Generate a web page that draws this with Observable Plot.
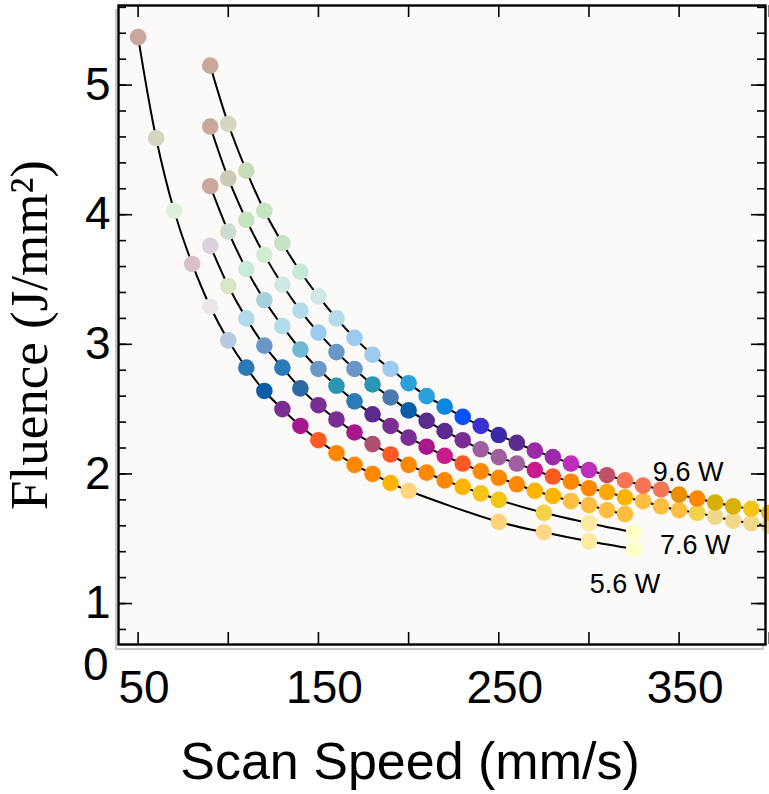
<!DOCTYPE html>
<html><head><meta charset="utf-8">
<script src="https://cdn.jsdelivr.net/npm/d3@7"></script>
<script src="https://cdn.jsdelivr.net/npm/@observablehq/plot@0.6"></script>
<style>body{margin:0;background:#fff}</style>
</head><body><div id="chart"></div>
<script>
// ---- data (speed in mm/s, fluence in J/mm^2) ----
const speed56 = [50,60,70,80,90,100,110,120,130,140,150,160,170,180,190,200,250,275,300,325];
const fluence56 = [5.37,4.59,4.03,3.62,3.29,3.03,2.82,2.64,2.50,2.37,2.26,2.16,2.07,2.00,1.93,1.87,1.63,1.55,1.48,1.42];
const class56 = ["rosy","beige","palemint","palemauve","blush","lightsteel","blue","darkblue","purple","magenta","red","orange","orange","orange","gold","palegold","palegold","peach","lemon","cream"];

const speed66 = [90,100,110,120,130,140,150,160,170,180,190,200,210,220,230,240,250,275,300,325];
const fluence66 = [3.76,3.45,3.20,2.99,2.82,2.66,2.53,2.42,2.32,2.23,2.15,2.07,2.01,1.95,1.90,1.85,1.80,1.70,1.62,1.55];
const class66 = ["lavender","yellowgreen","lightblue","steel","blue","navy","purple","purple","magenta","mauvered","red","orange","orange","orange","gold","goldyellow","goldyellow","yellow","lemon","cream"];

const speed76 = [90,100,110,120,130,140,150,160,170,180,190,200,210,220,230,240,250,260,270,280,290,300,310,320];
const fluence76 = [4.22,3.87,3.58,3.34,3.14,2.96,2.81,2.68,2.56,2.46,2.37,2.28,2.21,2.14,2.08,2.02,1.97,1.92,1.87,1.83,1.79,1.76,1.72,1.69];
const class76 = ["rosy","greygreen","mint","steelteal","lightblue","cyan","steel","teal","blue","darkpurple","purple","purple","magenta","pink","red","orange","orange","orange","gold","gold","lightgold","lightgold","lightgold","lightgold"];

const speed86 = [90,100,110,120,130,140,150,160,170,180,190,200,210,220,230,240,250,260,270,280,290,300,310,320,330,340,350,360,370,380,390,400];
const fluence86 = [4.68,4.28,3.96,3.69,3.46,3.26,3.09,2.94,2.81,2.69,2.59,2.49,2.41,2.33,2.26,2.19,2.13,2.08,2.03,1.98,1.94,1.89,1.86,1.82,1.79,1.75,1.72,1.70,1.67,1.64,1.62,1.60];
const class86 = ["rosy","greige","green","palegreen","aqua","lightblue","sky","steel","steel","teal","steeldark","darkblue","darkpurple","darkpurple","purple","mauve","mauve","mauve","pink","red","orange","orange","amber","gold","lightgold","lightgold","lightgold","yellow","sand","sand","sand","sand"];

const speed96 = [90,100,110,120,130,140,150,160,170,180,190,200,210,220,230,240,250,260,270,280,290,300,310,320,330,340,350,360,370,380,390,400];
const fluence96 = [5.15,4.70,4.34,4.03,3.78,3.56,3.37,3.20,3.05,2.92,2.81,2.70,2.60,2.52,2.44,2.37,2.30,2.24,2.18,2.13,2.08,2.03,1.99,1.95,1.91,1.88,1.84,1.81,1.78,1.75,1.73,1.70];
const class96 = ["rosy","beige","sage","green","green","mint","aqua","lightblue","sky","sky","sky","cerulean","cerulean","azure","brightblue","violet","indigo","darkpurple","plum","plum","orchid","orchid","rosered","coral","coral","coral","darkorange","orange","ochre","ochre","goldyellow","gold"];

const powers = ["5.6 W","6.6 W","7.6 W","8.6 W","9.6 W"];
const speeds = [speed56, speed66, speed76, speed86, speed96];
const fluences = [fluence56, fluence66, fluence76, fluence86, fluence96];
const classes = [class56, class66, class76, class86, class96];

const labelText = ["9.6 W","7.6 W","5.6 W"];
const labelSpeed = [355, 359, 320];
const labelFluence = [2.01, 1.45, 1.15];

const xTicks = [50,100,150,200,250,300,350,400];
const xTickLabels = [50,150,250,350];
const yTickLabels = [1,2,3,4,5];
const yMajor = [1,2,3,4,5];
const yMinor = d3.range(8, 57, 2).map(d => d / 10);

// colour classes of the points
const classNames = ["rosy","beige","greige","greygreen","sage","green","palegreen","mint","palemint","palemauve","blush","lavender","yellowgreen","aqua","steelteal","lightblue","sky","lightsteel","cyan","steel","steeldark","blue","navy","teal","darkblue","cerulean","azure","brightblue","violet","indigo","darkpurple","purple","mauve","plum","magenta","pink","orchid","rosered","mauvered","coral","red","orange","darkorange","amber","gold","lightgold","ochre","goldyellow","yellow","sand","palegold","peach","lemon","cream"];
const classColors = ["#c9a79a","#d6d6c0","#cdcab4","#cddccc","#c8dcb8","#c4e4c2","#d2ecd2","#c8ead8","#dcf0dc","#d8c0c8","#ece6e9","#ddd2dc","#d8e6c4","#d0e8e4","#a8d0dc","#b2dcea","#9ccbef","#b8cae2","#70b8d4","#6a96c8","#4a7ab0","#2a7ab8","#2a68a6","#2a96b4","#0a5ea8","#2aa0dc","#0a88e0","#0a50ff","#3a30d0","#3a2aa8","#5a2a8e","#7a2d92","#a060a0","#9a2aa8","#a8188c","#c81a8a","#bc2ebc","#c0506a","#b05070","#f57555","#ff5a24","#ff8800","#e89000","#ffa800","#ffb400","#ffbe40","#d8b000","#f5c418","#f3d24a","#f0d888","#fdd47c","#fdd88a","#fbeaa0","#ffffc8"];

const rows = [];
powers.forEach((p, i) => speeds[i].forEach((s, j) => rows.push({power: p, speed: s, fluence: fluences[i][j], cls: classes[i][j]})));
const labels = labelText.map((t, i) => ({text: t, speed: labelSpeed[i], fluence: labelFluence[i]}));

const W = 769, H = 794, mL = 118, mR = 4, mT = 5, mB = 150;
const plotW = W - mL - mR, plotH = H - mT - mB;
const sans = "'Liberation Sans', Arial, Helvetica, sans-serif";

const chart = Plot.plot({
  width: W, height: H,
  marginLeft: mL, marginRight: mR, marginTop: mT, marginBottom: mB,
  style: {background: "white", fontFamily: sans, overflow: "visible"},
  x: {domain: [39.13, 397.9], axis: null},
  y: {domain: [0.684, 5.614], axis: null},
  color: {type: "ordinal", domain: classNames, range: classColors},
  marks: [
    Plot.frame({stroke: "#c9c9c9", strokeWidth: 2, dx: -2.5, dy: 4.5}),
    Plot.frame({fill: "#fbfaf8"}),
    Plot.line(rows, {x: "speed", y: "fluence", z: "power", stroke: "black", strokeWidth: 2, curve: "catmull-rom"}),
    Plot.dot(rows, {x: "speed", y: "fluence", r: 8.3, fill: "cls"}),
    Plot.text(labels, {x: "speed", y: "fluence", text: "text", fontSize: 27, fontFamily: sans, fill: "black"}),
    // ticks (inward on all four sides)
    Plot.tickX(xTicks, {x: d => d, insetTop: plotH - 12, stroke: "black", strokeWidth: 1.6}),
    Plot.tickX(xTicks, {x: d => d, insetBottom: plotH - 12, stroke: "black", strokeWidth: 1.6}),
    Plot.tickY(yMinor, {y: d => d, insetRight: plotW - 8, stroke: "black", strokeWidth: 1.6}),
    Plot.tickY(yMinor, {y: d => d, insetLeft: plotW - 8, stroke: "black", strokeWidth: 1.6}),
    Plot.tickY(yMajor, {y: d => d, insetRight: plotW - 14, stroke: "black", strokeWidth: 1.6}),
    Plot.tickY(yMajor, {y: d => d, insetLeft: plotW - 14, stroke: "black", strokeWidth: 1.6}),
    Plot.frame({stroke: "black", strokeWidth: 2.4}),
    // tick labels
    Plot.axisX(xTickLabels, {anchor: "bottom", tickSize: 0, tickPadding: 26, dx: 6, fontSize: 46, fontFamily: sans, tickFormat: d => String(d), label: null}),
    Plot.axisY(yTickLabels, {anchor: "left", tickSize: 0, tickPadding: 8, fontSize: 46, fontFamily: sans, tickFormat: d => String(d), label: null}),
    Plot.text(["0"], {frameAnchor: "bottom-left", dx: -10, dy: 21, textAnchor: "end", lineAnchor: "middle", fontSize: 46, fontFamily: sans, fill: "black"}),
    // axis titles
    Plot.text(["Scan Speed (mm/s)"], {frameAnchor: "bottom", dx: -32, dy: 134, textAnchor: "middle", lineAnchor: "bottom", fontSize: 52, fontFamily: sans, fill: "black"}),
    Plot.text(["Fluence (J/mm²)"], {frameAnchor: "left", dx: -72, dy: 10, rotate: -90, textAnchor: "middle", lineAnchor: "bottom", fontSize: 53, fontFamily: "'Liberation Serif', 'Times New Roman', serif", fill: "black"})
  ]
});
document.getElementById("chart").appendChild(chart);
</script>
</body></html>
